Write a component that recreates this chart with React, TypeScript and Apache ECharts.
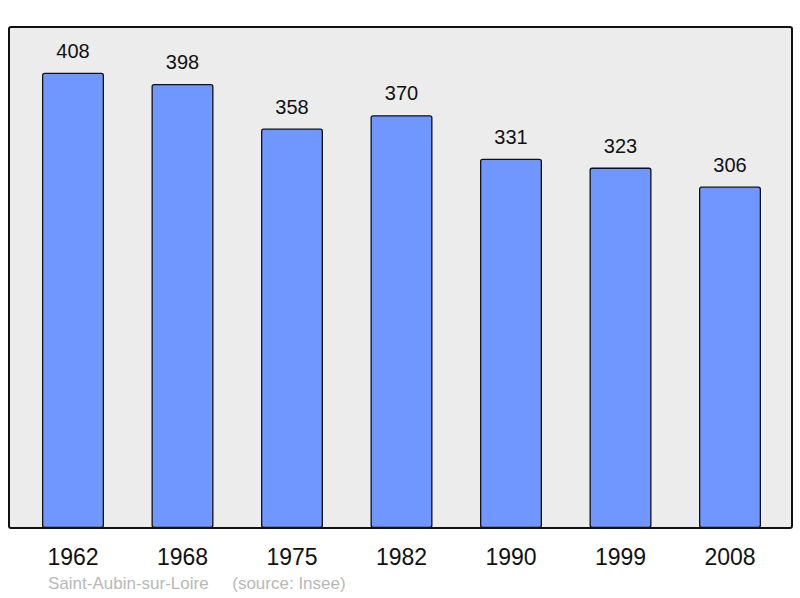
import React, { useEffect, useRef } from "react";
import * as echarts from "echarts";

const years = ["1962", "1968", "1975", "1982", "1990", "1999", "2008"];
const population = [408, 398, 358, 370, 331, 323, 306];
const footerText = "Saint-Aubin-sur-Loire     (source: Insee)";

export default function App() {
  const ref = useRef<HTMLDivElement>(null);
  useEffect(() => {
    const chart = echarts.init(ref.current!, null, { renderer: "svg" });
    chart.setOption({
      animation: false,
      textStyle: { fontFamily: "Liberation Sans, Arial, sans-serif" },
      graphic: [
        {
          type: "rect",
          z: -10,
          silent: true,
          shape: { x: 9, y: 27, width: 783, height: 501, r: 2 },
          style: { fill: "#ececec", stroke: "#111", lineWidth: 2 },
        },
        {
          type: "text",
          left: 48,
          top: 575,
          style: {
            text: footerText,
            fill: "#b8b8b8",
            font: "17px 'Liberation Sans', Arial, sans-serif",
          },
        },
      ],
      grid: { left: 18.25, right: 15.25, top: 27, bottom: 70, containLabel: false },
      xAxis: {
        type: "category",
        data: years,
        axisLine: { show: false },
        axisTick: { show: false },
        axisLabel: {
          color: "#111",
          fontSize: 23,
          margin: 17,
          fontFamily: "Liberation Sans, Arial, sans-serif",
        },
      },
      yAxis: {
        type: "value",
        min: 0,
        max: 449,
        show: false,
        splitLine: { show: false },
      },
      series: [
        {
          type: "bar",
          data: population,
          barWidth: 62,
          itemStyle: {
            color: "#7097ff",
            borderColor: "#111",
            borderWidth: 1.3,
            borderRadius: 2,
          },
          label: {
            show: true,
            position: "top",
            distance: 12,
            color: "#111",
            fontSize: 20,
            fontFamily: "Liberation Sans, Arial, sans-serif",
          },
        },
      ],
    });
    return () => chart.dispose();
  }, []);
  return <div ref={ref} style={{ width: 800, height: 598, position: "absolute", left: 0, top: 0 }} />;
}
